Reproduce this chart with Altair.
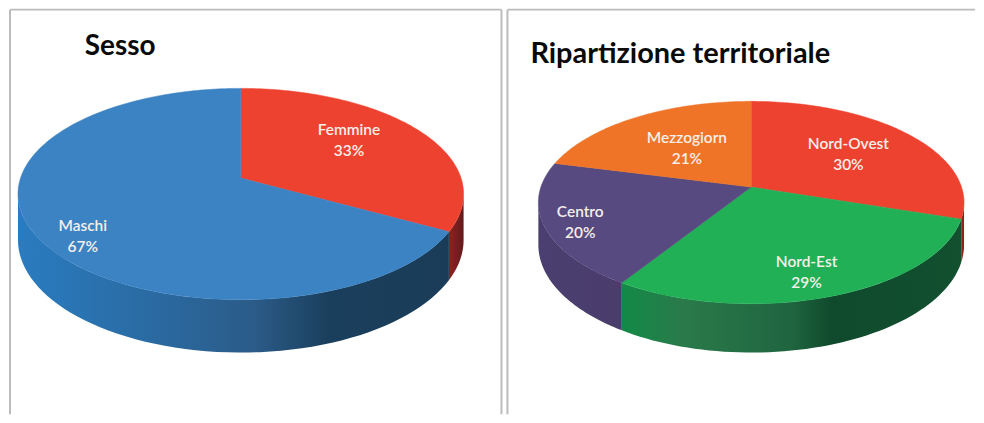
import math
import altair as alt
import pandas as pd

# ---- values
sesso_labels = ["Femmine", "Maschi"]
sesso_shares = [33, 67]
sesso_colors = ["#ee4230", "#3c83c4"]
sesso_walls = [
    [(0, "#8a2420"), (1, "#641a1c")],
    [(0, "#2a7cc0"), (0.3, "#2a6ba3"), (0.55, "#2b5b88"), (0.72, "#1a3f5c"), (1, "#1a3c58")],
]
rip_labels = ["Nord-Ovest", "Nord-Est", "Centro", "Mezzogiorn"]
rip_shares = [30, 29, 20, 21]
rip_colors = ["#ee4230", "#21b056", "#574a80", "#ef7427"]
rip_walls = [
    [(0, "#a02a22"), (1, "#7a2020")],
    [(0, "#128a46"), (0.18, "#2a7a4a"), (0.5, "#1f6540"), (0.62, "#0f4a2c"), (1, "#125030")],
    [(0, "#4a3f70"), (1, "#4a3d6c")],
    [(0, "#c86020"), (1, "#c86020")],
]

# ---- layout, in page pixels
TOP, BOTTOM = 9, 415
BORDER = "#bcbcbc"
P1 = dict(x0=10, x1=503, title="Sesso", title_x=85, title_y=47, title_size=28, right_border=True,
          cx=241.5, cy=178, up=90, down=122, half=223.5, depth=45,
          label_x=[350, 83], label_y=[130, 226])
P2 = dict(x0=507, x1=976, title="Ripartizione territoriale", title_x=530, title_y=54, title_size=29, right_border=False,
          cx=751.5, cy=187, up=86, down=117, half=213.5, depth=41.5,
          label_x=[849, 807, 580, 687], label_y=[144, 262, 212, 138])


def panel(cfg, labels, shares, colors, walls):
    ratio = cfg["down"] / cfg["up"]
    k = (ratio - 1) / (ratio + 1)
    big_b = cfg["up"] * (1 + k)
    big_a = cfg["half"] * math.sqrt(1 - k * k)
    w_px, h_px = cfg["x1"] - cfg["x0"], BOTTOM - TOP

    def proj(theta):
        u, v = math.sin(theta), math.cos(theta)
        d = 1 + k * v
        return cfg["cx"] + big_a * u / d, cfg["cy"] - big_b * v / d, cfg["depth"] / d

    xs = alt.X("x:Q", scale=alt.Scale(domain=[cfg["x0"], cfg["x1"]], nice=False, zero=False), axis=None)
    ys = alt.Y("y:Q", scale=alt.Scale(domain=[BOTTOM, TOP], nice=False, zero=False), axis=None)
    wall_from = math.acos(-k)
    wall_to = 2 * math.pi - wall_from

    wall_layers, top_layers = [], []
    start = 0.0
    for name, share, color, stops in zip(labels, shares, colors, walls):
        end = start + share / 100 * 2 * math.pi
        n = max(8, int(share * 3))
        pts = [{"i": -1, "x": cfg["cx"], "y": cfg["cy"]}]
        for j in range(n + 1):
            x, y, _ = proj(start + (end - start) * j / n)
            pts.append({"i": j, "x": x, "y": y})
        pts.append({"i": n + 1, "x": cfg["cx"], "y": cfg["cy"]})
        top_layers.append(
            alt.Chart(pd.DataFrame(pts))
            .mark_line(fill=color, filled=True, stroke=color, strokeWidth=0.5, clip=True)
            .encode(x=xs, y=ys, order=alt.Order("i:Q"))
        )
        a, b = max(start, wall_from), min(end, wall_to)
        if b > a:
            w = []
            for j in range(61):
                x, y, depth = proj(a + (b - a) * j / 60)
                w.append({"x": x, "y": y, "y2": y + depth})
            wall_layers.append(
                alt.Chart(pd.DataFrame(w))
                .mark_area(
                    clip=True,
                    fill=alt.Gradient(
                        gradient="linear", x1=0, x2=1, y1=0, y2=0,
                        stops=[alt.GradientStop(offset=o, color=c) for o, c in stops],
                    ),
                )
                .encode(x=xs, y=ys, y2="y2:Q")
            )
        start = end

    text_df = pd.DataFrame(
        {
            "x": cfg["label_x"],
            "y": cfg["label_y"],
            "t": [f"{n}\n{s}%" for n, s in zip(labels, shares)],
        }
    )
    text = (
        alt.Chart(text_df)
        .mark_text(font="Lato", fontSize=15.5, fontWeight=600, color="#f6efe9",
                   lineBreak="\n", lineHeight=21, align="center", baseline="middle")
        .encode(x=xs, y=ys, text="t:N")
    )
    title = (
        alt.Chart(pd.DataFrame({"x": [cfg["title_x"]], "y": [cfg["title_y"]], "t": [cfg["title"]]}))
        .mark_text(font="Lato", fontSize=cfg["title_size"], fontWeight="bold", color="#0a0a0a",
                   align="left", baseline="middle")
        .encode(x=xs, y=ys, text="t:N")
    )
    frame = alt.Chart(pd.DataFrame({"a": [0]}))
    rule = lambda **kw: frame.mark_rule(color=BORDER, strokeWidth=2).encode(**kw)
    borders = [
        rule(x=alt.value(0), y=alt.value(0), y2=alt.value(h_px)),
        rule(x=alt.value(0), x2=alt.value(w_px), y=alt.value(0)),
    ]
    if cfg["right_border"]:
        borders.append(rule(x=alt.value(w_px), y=alt.value(0), y2=alt.value(h_px)))
    return alt.layer(*borders, *wall_layers, *top_layers, text, title).properties(
        width=w_px, height=h_px
    )


left = panel(P1, sesso_labels, sesso_shares, sesso_colors, sesso_walls)
right = panel(P2, rip_labels, rip_shares, rip_colors, rip_walls)

chart = (
    alt.hconcat(left, right, spacing=4)
    .properties(padding={"left": 1, "top": 0, "right": 0, "bottom": 0}, background="white")
    .configure_view(stroke=None, fill="white")
)
chart.save("out.html", embed_options={"renderer": "svg", "actions": False})
